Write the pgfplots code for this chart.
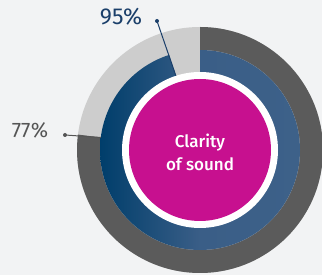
\documentclass[border=0pt]{standalone}
\usepackage{pgfplots}
\pgfplotsset{compat=1.18}
\usepackage{fontspec}
\setmainfont{Fira Sans}
\newfontfamily\medfont{Fira Sans Medium}
\definecolor{bg}{HTML}{F2F3F4}
\definecolor{darkg}{HTML}{5B5B5B}
\definecolor{lightg}{HTML}{CDCDCD}
\definecolor{blueL}{HTML}{003E6B}
\definecolor{blueM}{HTML}{3A5E87}
\definecolor{blueR}{HTML}{3D6189}
\definecolor{mag}{HTML}{C7108F}
\definecolor{navy}{HTML}{1B3F6A}
\definecolor{labgray}{HTML}{555555}
\begin{document}
\begin{tikzpicture}
% values (percent)
\def\outerval{77}
\def\innerval{95}
\begin{axis}[hide axis, scale only axis, width=322pt, height=275pt,
  xmin=0, xmax=322, ymin=0, ymax=275, clip=true]
\fill[bg] (axis cs:0,0) rectangle (axis cs:322,275);
% outer ring
\fill[lightg] (axis cs:200,125) circle[radius=123pt];
\fill[darkg] (axis cs:200,125) -- ++(90:123pt)
   arc[start angle=90, end angle={90-3.6*\outerval}, radius=123pt] -- cycle;
% inner ring
\fill[lightg] (axis cs:200,125) circle[radius=100pt];
\shade[left color=blueL, right color=blueR, middle color=blueM]
   (axis cs:200,125) -- ++(90:100pt)
   arc[start angle=90, end angle={90-3.6*\innerval}, radius=100pt] -- cycle;
% centre
\fill[white] (axis cs:200,125) circle[radius=78pt];
\fill[mag] (axis cs:200,125) circle[radius=71pt];
\node[white, align=center, font=\medfont\fontsize{17}{23}\selectfont] at (axis cs:200,123) {Clarity\\of sound};
% labels
\draw[navy, line width=1pt] (axis cs:157,254) -- ([shift={({90-3.6*\innerval}:78pt)}]axis cs:200,125);
\fill[navy] (axis cs:157,254) circle[radius=2pt];
\node[navy, font=\fontsize{23}{28}\selectfont] at (axis cs:121,258) {\innerval\%};
\draw[labgray, line width=1pt] (axis cs:65,140) -- ([shift={({90-3.6*\outerval}:100pt)}]axis cs:200,125);
\fill[labgray] (axis cs:65,140) circle[radius=2pt];
\node[labgray, font=\fontsize{21}{26}\selectfont] at (axis cs:30,145) {\outerval\%};
\end{axis}
\end{tikzpicture}
\end{document}
